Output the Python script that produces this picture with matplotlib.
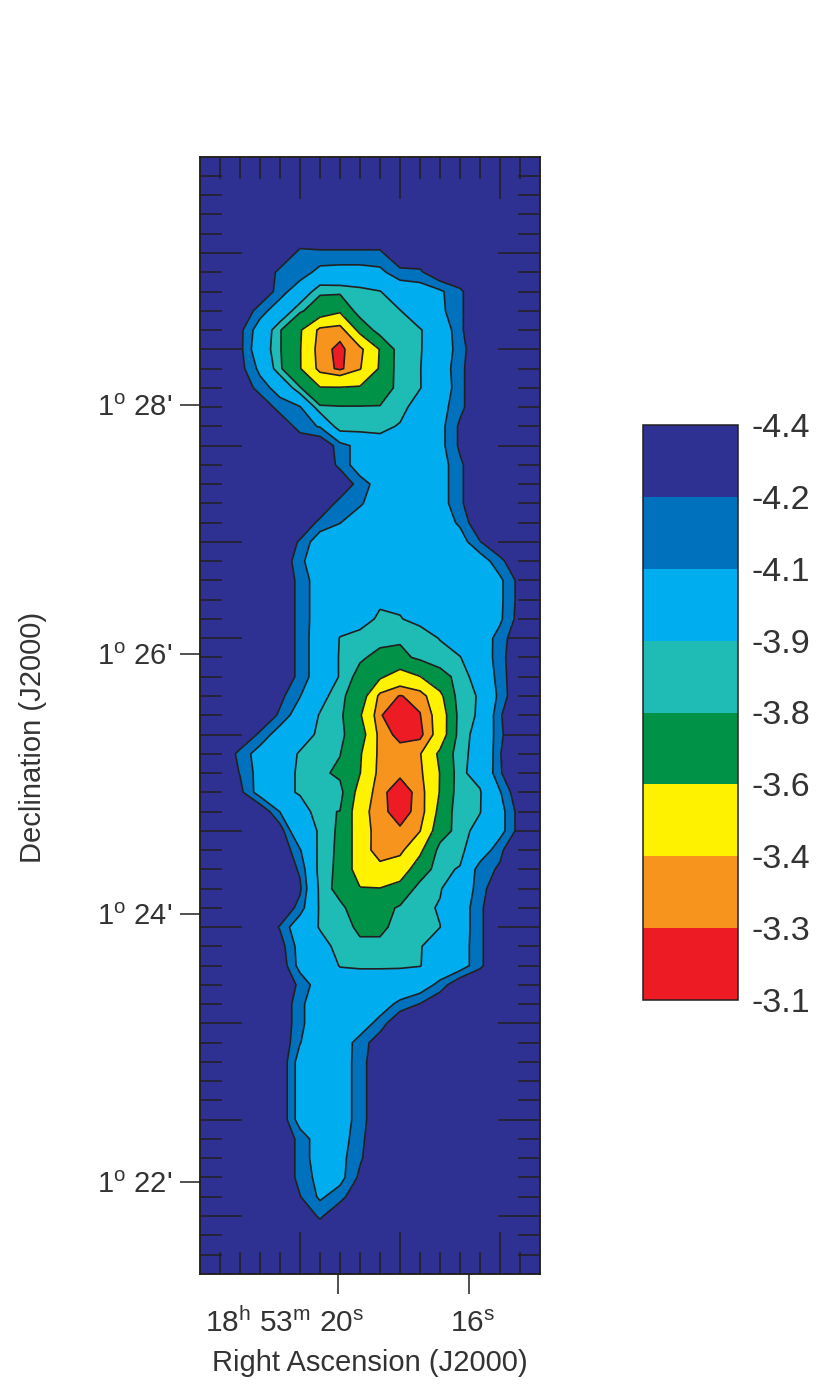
import matplotlib
matplotlib.use('Agg')
import matplotlib.pyplot as plt
import numpy as np
from matplotlib import transforms

plt.rcParams['font.family'] = ['Liberation Sans', 'DejaVu Sans']
plt.rcParams['mathtext.fontset'] = 'custom'
plt.rcParams['mathtext.rm'] = 'Liberation Sans'
plt.rcParams['mathtext.it'] = 'Liberation Sans:italic'
plt.rcParams['mathtext.bf'] = 'Liberation Sans:bold'
plt.rcParams['axes.unicode_minus'] = False

# contour levels and their fill colours (low -> high)
levels = [-4.4, -4.2, -4.1, -3.9, -3.8, -3.6, -3.4, -3.3, -3.1]
level_colors = ['#2e3192', '#0071bc', '#00aeef', '#1fbbb5',
                '#009247', '#fff200', '#f7941d', '#ed1c24']

# axis labels (positions in map pixels)
ra_tick_pos = [6.9, 13.45]
ra_tick_text = ['18$^{\\rm h}$ 53$^{\\rm m}$ 20$^{\\rm s}$', '16$^{\\rm s}$']
dec_tick_pos = [12.91, 25.82, 39.32, 53.22]
dec_tick_text = ["1$^{\\rm o}$ 28'", "1$^{\\rm o}$ 26'", "1$^{\\rm o}$ 24'", "1$^{\\rm o}$ 22'"]

# map values, 59 rows (north -> south) x 18 columns (east -> west)
emission = [
    [-4.3, -4.3, -4.3, -4.3, -4.3, -4.3, -4.3, -4.3, -4.3, -4.3, -4.3, -4.3, -4.3, -4.3, -4.3, -4.3, -4.3, -4.3],
    [-4.3, -4.3, -4.3, -4.3, -4.3, -4.3, -4.3, -4.3, -4.3, -4.3, -4.3, -4.3, -4.3, -4.3, -4.3, -4.3, -4.3, -4.3],
    [-4.3, -4.3, -4.3, -4.3, -4.3, -4.3, -4.3, -4.3, -4.3, -4.3, -4.3, -4.3, -4.3, -4.3, -4.3, -4.3, -4.3, -4.3],
    [-4.3, -4.3, -4.3, -4.3, -4.3, -4.3, -4.3, -4.3, -4.3, -4.3, -4.3, -4.3, -4.3, -4.3, -4.3, -4.3, -4.3, -4.3],
    [-4.3, -4.3, -4.3, -4.3, -4.3, -4.3, -4.3, -4.3, -4.3, -4.3, -4.3, -4.3, -4.3, -4.3, -4.3, -4.3, -4.3, -4.3],
    [-4.3, -4.3, -4.3, -4.3, -4.3, -4.17, -4.18, -4.18, -4.18, -4.18, -4.3, -4.3, -4.3, -4.3, -4.3, -4.3, -4.3, -4.3],
    [-4.3, -4.3, -4.3, -4.3, -4.17, -4.16, -4.06, -4.05, -4.05, -4.07, -4.17, -4.18, -4.3, -4.3, -4.3, -4.3, -4.3, -4.3],
    [-4.3, -4.3, -4.3, -4.3, -4.15, -4.02, -3.82, -3.83, -3.86, -3.895, -4.0, -4.03, -4.08, -4.18, -4.3, -4.3, -4.3, -4.3],
    [-4.3, -4.3, -4.3, -4.15, -4.02, -3.82, -3.72, -3.63, -3.88, -3.88, -3.895, -4.0, -4.07, -4.18, -4.3, -4.3, -4.3, -4.3],
    [-4.3, -4.3, -4.23, -4.03, -3.81, -3.62, -3.36, -3.33, -3.66, -3.875, -3.86, -3.89, -3.99, -4.18, -4.3, -4.3, -4.3, -4.3],
    [-4.3, -4.3, -4.23, -4.0, -3.81, -3.61, -3.33, -3.28, -3.36, -3.61, -3.88, -3.89, -4.0, -4.155, -4.3, -4.3, -4.3, -4.3],
    [-4.3, -4.3, -4.24, -4.07, -3.82, -3.61, -3.35, -3.28, -3.39, -3.62, -3.88, -3.895, -4.02, -4.17, -4.3, -4.3, -4.3, -4.3],
    [-4.3, -4.3, -4.3, -4.15, -4.05, -3.81, -3.61, -3.61, -3.62, -3.68, -3.86, -3.895, -4.0, -4.17, -4.3, -4.3, -4.3, -4.3],
    [-4.3, -4.3, -4.3, -4.3, -4.15, -4.11, -3.82, -3.81, -3.81, -3.81, -3.86, -3.96, -4.05, -4.17, -4.3, -4.3, -4.3, -4.3],
    [-4.3, -4.3, -4.3, -4.3, -4.3, -4.15, -4.09, -3.82, -3.84, -3.87, -3.91, -4.0, -4.06, -4.22, -4.3, -4.3, -4.3, -4.3],
    [-4.3, -4.3, -4.3, -4.3, -4.3, -4.3, -4.3, -4.15, -4.05, -3.95, -3.93, -4.0, -4.06, -4.22, -4.3, -4.3, -4.3, -4.3],
    [-4.3, -4.3, -4.3, -4.3, -4.3, -4.3, -4.3, -4.17, -4.03, -3.97, -3.96, -3.98, -4.04, -4.18, -4.3, -4.3, -4.3, -4.3],
    [-4.3, -4.3, -4.3, -4.3, -4.3, -4.3, -4.3, -4.3, -4.15, -4.05, -3.97, -3.98, -4.04, -4.18, -4.3, -4.3, -4.3, -4.3],
    [-4.3, -4.3, -4.3, -4.3, -4.3, -4.3, -4.3, -4.16, -4.12, -4.0, -3.97, -3.98, -4.04, -4.18, -4.3, -4.3, -4.3, -4.3],
    [-4.3, -4.3, -4.3, -4.3, -4.3, -4.3, -4.17, -4.105, -4.0, -3.97, -3.96, -3.97, -4.03, -4.12, -4.3, -4.3, -4.3, -4.3],
    [-4.3, -4.3, -4.3, -4.3, -4.3, -4.185, -4.02, -3.98, -3.96, -3.95, -3.95, -3.96, -3.98, -4.04, -4.195, -4.3, -4.3, -4.3],
    [-4.3, -4.3, -4.3, -4.3, -4.3, -4.13, -4.0, -3.97, -3.95, -3.94, -3.94, -3.95, -3.96, -3.98, -4.03, -4.17, -4.3, -4.3],
    [-4.3, -4.3, -4.3, -4.3, -4.3, -4.165, -4.03, -3.97, -3.95, -3.93, -3.93, -3.94, -3.95, -3.97, -4.0, -4.075, -4.24, -4.3],
    [-4.3, -4.3, -4.3, -4.3, -4.3, -4.165, -4.03, -3.97, -3.94, -3.92, -3.92, -3.94, -3.95, -3.97, -4.0, -4.075, -4.24, -4.3],
    [-4.3, -4.3, -4.3, -4.3, -4.3, -4.165, -4.03, -3.96, -3.95, -3.88, -3.895, -3.93, -3.94, -3.96, -4.0, -4.08, -4.25, -4.3],
    [-4.3, -4.3, -4.3, -4.3, -4.3, -4.165, -4.02, -3.895, -3.86, -3.84, -3.82, -3.85, -3.905, -3.97, -4.03, -4.14, -4.3, -4.3],
    [-4.3, -4.3, -4.3, -4.3, -4.3, -4.165, -4.02, -3.89, -3.82, -3.76, -3.76, -3.83, -3.86, -3.895, -4.0, -4.16, -4.3, -4.3],
    [-4.3, -4.3, -4.3, -4.3, -4.3, -4.165, -4.02, -3.89, -3.75, -3.63, -3.5, -3.595, -3.75, -3.84, -3.97, -4.15, -4.3, -4.3],
    [-4.3, -4.3, -4.3, -4.3, -4.23, -4.105, -3.95, -3.83, -3.72, -3.36, -3.295, -3.33, -3.55, -3.88, -3.905, -4.14, -4.3, -4.3],
    [-4.3, -4.3, -4.3, -4.3, -4.18, -4.02, -3.89, -3.83, -3.62, -3.31, -3.22, -3.295, -3.47, -3.86, -3.913, -4.19, -4.3, -4.3],
    [-4.3, -4.3, -4.3, -4.18, -4.03, -3.95, -3.88, -3.83, -3.7, -3.35, -3.27, -3.27, -3.47, -3.87, -3.93, -4.18, -4.3, -4.3],
    [-4.3, -4.3, -4.17, -4.04, -3.96, -3.89, -3.84, -3.805, -3.62, -3.36, -3.34, -3.39, -3.64, -3.886, -3.92, -4.195, -4.3, -4.3],
    [-4.3, -4.3, -4.195, -4.05, -3.96, -3.88, -3.83, -3.77, -3.605, -3.35, -3.32, -3.37, -3.605, -3.88, -3.94, -4.19, -4.3, -4.3],
    [-4.3, -4.3, -4.23, -4.04, -3.96, -3.88, -3.86, -3.85, -3.517, -3.33, -3.244, -3.337, -3.61, -3.885, -3.89, -4.09, -4.3, -4.3],
    [-4.3, -4.3, -4.3, -4.3, -4.095, -4.0, -3.81, -3.798, -3.468, -3.32, -3.27, -3.325, -3.66, -3.893, -3.895, -4.05, -4.25, -4.3],
    [-4.3, -4.3, -4.3, -4.3, -4.26, -3.95, -3.891, -3.77, -3.487, -3.33, -3.31, -3.395, -3.72, -3.86, -3.94, -4.05, -4.25, -4.3],
    [-4.3, -4.3, -4.3, -4.3, -4.3, -4.11, -3.863, -3.773, -3.485, -3.33, -3.36, -3.56, -3.85, -3.87, -4.0, -4.18, -4.3, -4.3],
    [-4.3, -4.3, -4.3, -4.3, -4.3, -4.183, -3.85, -3.773, -3.485, -3.45, -3.5, -3.7, -3.88, -3.907, -4.164, -4.212, -4.3, -4.3],
    [-4.3, -4.3, -4.3, -4.3, -4.3, -4.22, -3.87, -3.75, -3.61, -3.605, -3.66, -3.86, -3.89, -4.0, -4.15, -4.3, -4.3, -4.3],
    [-4.3, -4.3, -4.3, -4.3, -4.3, -4.16, -3.88, -3.83, -3.72, -3.74, -3.82, -3.87, -3.91, -4.02, -4.18, -4.3, -4.3, -4.3],
    [-4.3, -4.3, -4.3, -4.3, -4.19, -4.0, -3.89, -3.84, -3.78, -3.78, -3.83, -3.87, -3.898, -4.02, -4.18, -4.3, -4.3, -4.3],
    [-4.3, -4.3, -4.3, -4.3, -4.25, -4.05, -3.95, -3.86, -3.82, -3.82, -3.84, -3.89, -3.99, -4.03, -4.18, -4.3, -4.3, -4.3],
    [-4.3, -4.3, -4.3, -4.3, -4.278, -4.056, -3.97, -3.895, -3.89, -3.89, -3.89, -3.895, -3.98, -4.03, -4.18, -4.3, -4.3, -4.3],
    [-4.3, -4.3, -4.3, -4.3, -4.3, -4.175, -4.03, -3.96, -3.95, -3.95, -3.96, -4.02, -4.14, -4.3, -4.3, -4.3, -4.3, -4.3],
    [-4.3, -4.3, -4.3, -4.3, -4.3, -4.13, -4.0, -3.97, -3.97, -4.02, -4.14, -4.205, -4.3, -4.3, -4.3, -4.3, -4.3, -4.3],
    [-4.3, -4.3, -4.3, -4.3, -4.3, -4.13, -4.0, -3.98, -4.02, -4.15, -4.3, -4.3, -4.3, -4.3, -4.3, -4.3, -4.3, -4.3],
    [-4.3, -4.3, -4.3, -4.3, -4.3, -4.105, -4.0, -4.02, -4.15, -4.26, -4.3, -4.3, -4.3, -4.3, -4.3, -4.3, -4.3, -4.3],
    [-4.3, -4.3, -4.3, -4.3, -4.29, -4.04, -3.98, -4.03, -4.15, -4.3, -4.3, -4.3, -4.3, -4.3, -4.3, -4.3, -4.3, -4.3],
    [-4.3, -4.3, -4.3, -4.3, -4.29, -4.04, -3.98, -4.03, -4.15, -4.3, -4.3, -4.3, -4.3, -4.3, -4.3, -4.3, -4.3, -4.3],
    [-4.3, -4.3, -4.3, -4.3, -4.29, -4.04, -3.98, -4.03, -4.15, -4.3, -4.3, -4.3, -4.3, -4.3, -4.3, -4.3, -4.3, -4.3],
    [-4.3, -4.3, -4.3, -4.3, -4.29, -4.04, -3.98, -4.03, -4.15, -4.3, -4.3, -4.3, -4.3, -4.3, -4.3, -4.3, -4.3, -4.3],
    [-4.3, -4.3, -4.3, -4.3, -4.3, -4.165, -4.03, -4.04, -4.17, -4.3, -4.3, -4.3, -4.3, -4.3, -4.3, -4.3, -4.3, -4.3],
    [-4.3, -4.3, -4.3, -4.3, -4.3, -4.165, -4.03, -4.06, -4.185, -4.3, -4.3, -4.3, -4.3, -4.3, -4.3, -4.3, -4.3, -4.3],
    [-4.3, -4.3, -4.3, -4.3, -4.3, -4.165, -4.06, -4.058, -4.225, -4.3, -4.3, -4.3, -4.3, -4.3, -4.3, -4.3, -4.3, -4.3],
    [-4.3, -4.3, -4.3, -4.3, -4.3, -4.205, -4.08, -4.16, -4.3, -4.3, -4.3, -4.3, -4.3, -4.3, -4.3, -4.3, -4.3, -4.3],
    [-4.3, -4.3, -4.3, -4.3, -4.3, -4.3, -4.18, -4.3, -4.3, -4.3, -4.3, -4.3, -4.3, -4.3, -4.3, -4.3, -4.3, -4.3],
    [-4.3, -4.3, -4.3, -4.3, -4.3, -4.3, -4.3, -4.3, -4.3, -4.3, -4.3, -4.3, -4.3, -4.3, -4.3, -4.3, -4.3, -4.3],
    [-4.3, -4.3, -4.3, -4.3, -4.3, -4.3, -4.3, -4.3, -4.3, -4.3, -4.3, -4.3, -4.3, -4.3, -4.3, -4.3, -4.3, -4.3],
    [-4.3, -4.3, -4.3, -4.3, -4.3, -4.3, -4.3, -4.3, -4.3, -4.3, -4.3, -4.3, -4.3, -4.3, -4.3, -4.3, -4.3, -4.3],
]

text_color = '#333333'
line_color = '#231f20'

z = np.array(emission)
n_rows, n_cols = z.shape
cols = np.arange(n_cols)
rows = np.arange(n_rows)

fig = plt.figure(figsize=(8.3, 13.97), dpi=100)
ax = fig.add_axes([200 / 830, 1 - 1273.8 / 1397, 340 / 830, 1117.1 / 1397])

# full set of bands (lowest band lies under the pixel ticks) ...
cf = ax.contourf(cols, rows, z, levels=levels, colors=level_colors, zorder=0.2)
# ... and the brighter bands again on top of the ticks
ax.contourf(cols, rows, z, levels=levels[1:], colors=level_colors[1:], zorder=1)
ax.contour(cols, rows, z, levels=levels, colors=line_color, linewidths=1.2,
           linestyles='solid', zorder=2)
ax.set_xlim(0, n_cols - 1)
ax.set_ylim(n_rows - 1, 0)

for sp in ax.spines.values():
    sp.set_linewidth(1.1)
    sp.set_color(line_color)

# outer ticks with the coordinate labels
ax.set_xticks(ra_tick_pos)
ax.set_yticks(dec_tick_pos, labels=dec_tick_text)
ax.tick_params(which='major', direction='out', length=14.4, width=1.1, color=line_color,
               top=False, right=False, labelbottom=False, labelsize=21,
               labelcolor=text_color, pad=5.5)

lab_trans = transforms.blended_transform_factory(ax.transData, ax.transAxes)
lab_trans = lab_trans + transforms.ScaledTranslation(0.26, -0.58, fig.dpi_scale_trans)
for pos, txt in zip(ra_tick_pos, ra_tick_text):
    ax.text(pos, 0, txt, transform=lab_trans, ha='right', va='baseline',
            fontsize=21.5, color=text_color)

# inner pixel ticks on all four sides, hidden by the bright bands
for side in ['top', 'bottom']:
    sec = ax.secondary_xaxis(side)
    sec.set_zorder(0.5)
    sec.set_xticks(np.arange(5, n_cols - 1, 5))
    sec.set_xticks(np.arange(1, n_cols - 1), minor=True)
    sec.tick_params(which='major', direction='in', length=30, width=1.1, color=line_color,
                    labeltop=False, labelbottom=False)
    sec.tick_params(which='minor', direction='in', length=15.5, width=1.1, color=line_color)
    for sp in sec.spines.values():
        sp.set_linewidth(1.1)
        sp.set_color(line_color)
for side in ['left', 'right']:
    sec = ax.secondary_yaxis(side)
    sec.set_zorder(0.5)
    sec.set_yticks(np.arange(5, n_rows - 1, 5))
    sec.set_yticks(np.arange(1, n_rows - 1), minor=True)
    sec.tick_params(which='major', direction='in', length=30, width=1.1, color=line_color,
                    labelleft=False, labelright=False)
    sec.tick_params(which='minor', direction='in', length=15.5, width=1.1, color=line_color)
    for sp in sec.spines.values():
        sp.set_linewidth(1.1)
        sp.set_color(line_color)

ax.set_xlabel('Right Ascension (J2000)', fontsize=21, color=text_color, va='center')
ax.xaxis.set_label_coords(0.5, -0.08)
ax.set_ylabel('Declination (J2000)', fontsize=21, color=text_color, va='center')
ax.yaxis.set_label_coords(-0.491, 0.48)

# colour bar
cax = fig.add_axes([643 / 830, 1 - 1000 / 1397, 95 / 830, 575 / 1397])
cb = fig.colorbar(cf, cax=cax, ticks=levels, drawedges=True)
cb.set_ticklabels(['%.1f' % v for v in levels])
cax.invert_yaxis()
cb.ax.tick_params(length=0, pad=10, labelsize=24.5, labelcolor=text_color)
cb.outline.set_edgecolor(line_color)
cb.outline.set_linewidth(1.1)
cb.dividers.set_color(line_color)
cb.dividers.set_linewidth(1.1)

fig.savefig('out.png', dpi=100, facecolor='white')
